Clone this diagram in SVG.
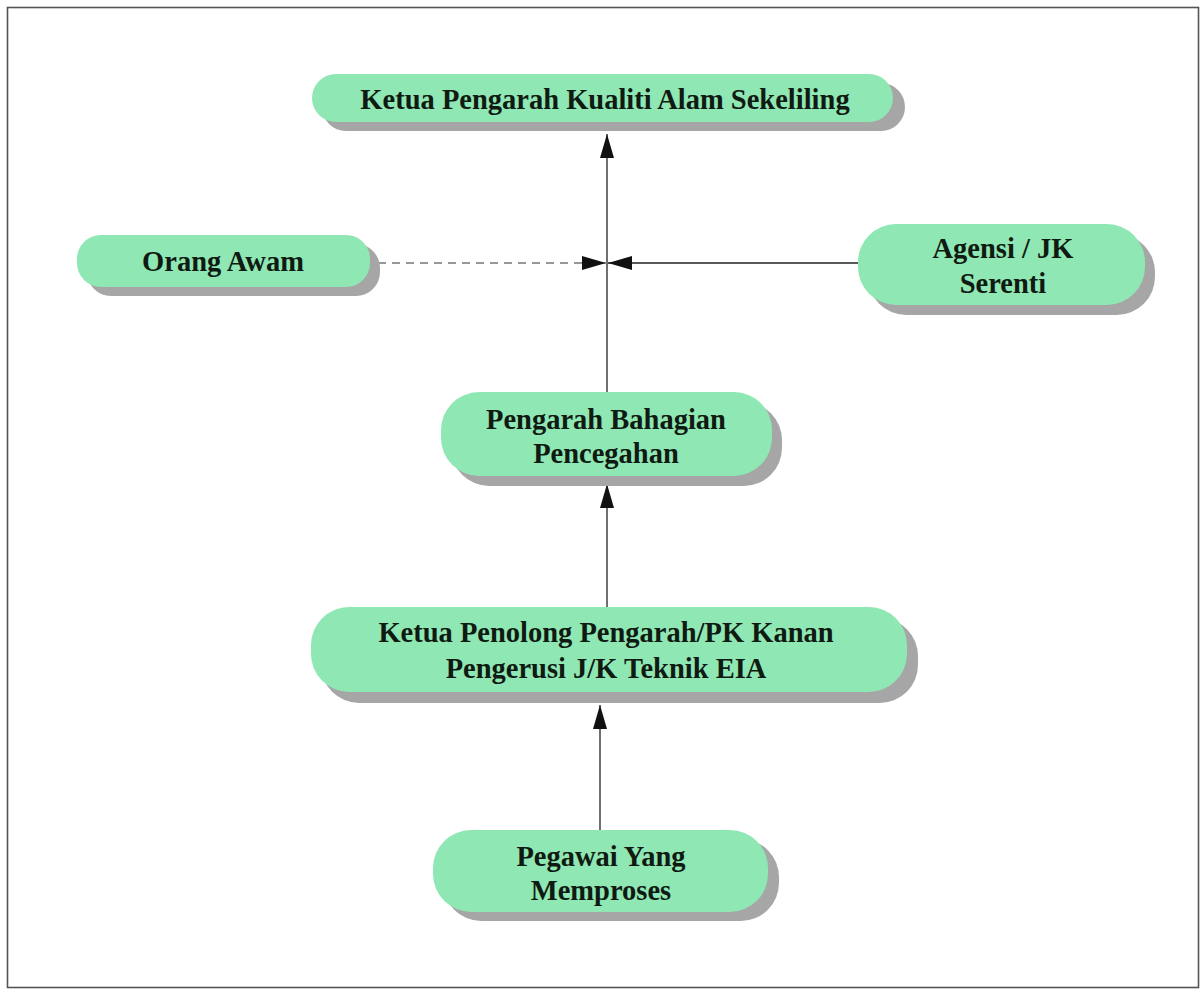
<svg xmlns="http://www.w3.org/2000/svg" width="1203" height="990" viewBox="0 0 1203 990">
<defs>
<style>
.sh{fill:#a6a6a6}
.pill{fill:#8fe7b3}
.t{font-family:"Liberation Serif","Times New Roman",serif;font-weight:bold;font-size:28.5px;fill:#0f1a12;text-anchor:middle}
.ln{stroke:#222;stroke-width:1.3;fill:none}
.dash{stroke:#333;stroke-width:1.2;stroke-dasharray:8 6;fill:none}
</style>
<marker id="ah" viewBox="0 0 24 14" refX="24" refY="7" markerWidth="24" markerHeight="14" markerUnits="userSpaceOnUse" orient="auto">
<path d="M0,0 L24,7 L0,14 z" fill="#111"/>
</marker>
</defs>
<rect width="1203" height="990" fill="#fff"/>
<rect x="7.5" y="7.5" width="1191" height="980" fill="none" stroke="#555" stroke-width="1.6"/>

<g id="connectors">
<line class="ln" x1="607" y1="392" x2="607" y2="134" marker-end="url(#ah)"/>
<line class="dash" x1="378" y1="263" x2="606" y2="263" marker-end="url(#ah)"/>
<line class="ln" x1="858" y1="263" x2="608" y2="263" marker-end="url(#ah)"/>
<line class="ln" x1="607" y1="607" x2="607" y2="484" marker-end="url(#ah)"/>
<line class="ln" x1="600" y1="830" x2="600" y2="705" marker-end="url(#ah)"/>
</g>

<g id="node-ketua-pengarah">
<rect class="sh" x="322" y="83" width="583" height="48" rx="24"/>
<rect class="pill" x="312" y="74" width="581" height="48" rx="24"/>
<text class="t" x="605" y="109">Ketua Pengarah Kualiti Alam Sekeliling</text>
</g>

<g id="node-orang-awam">
<rect class="sh" x="87" y="244" width="293" height="52" rx="24"/>
<rect class="pill" x="77" y="235" width="293" height="52" rx="24"/>
<text class="t" x="223" y="271">Orang Awam</text>
</g>

<g id="node-agensi">
<rect class="sh" x="868" y="234" width="287" height="81" rx="38"/>
<rect class="pill" x="858" y="224" width="287" height="81" rx="38"/>
<text class="t" x="1003" y="258">Agensi / JK</text>
<text class="t" x="1003" y="293">Serenti</text>
</g>

<g id="node-pengarah-bahagian">
<rect class="sh" x="451" y="402" width="331" height="84" rx="38"/>
<rect class="pill" x="441" y="392" width="331" height="84" rx="38"/>
<text class="t" x="606" y="429">Pengarah Bahagian</text>
<text class="t" x="606" y="463">Pencegahan</text>
</g>

<g id="node-ketua-penolong">
<rect class="sh" x="321" y="618" width="597" height="85" rx="38"/>
<rect class="pill" x="311" y="607" width="596" height="85" rx="38"/>
<text class="t" x="606" y="642">Ketua Penolong Pengarah/PK Kanan</text>
<text class="t" x="606" y="678">Pengerusi J/K Teknik EIA</text>
</g>

<g id="node-pegawai">
<rect class="sh" x="443" y="839" width="336" height="82" rx="38"/>
<rect class="pill" x="433" y="830" width="335" height="82" rx="38"/>
<text class="t" x="601" y="866">Pegawai Yang</text>
<text class="t" x="601" y="900">Memproses</text>
</g>
</svg>
